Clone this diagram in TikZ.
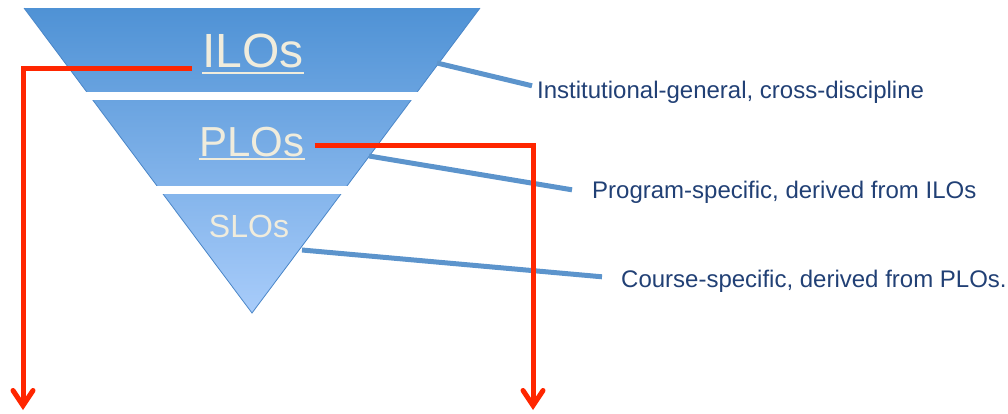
\documentclass[tikz,border=0pt]{standalone}
\usepackage{fontspec}
\setmainfont{Liberation Sans}
\usetikzlibrary{arrows.meta}
\definecolor{bandtop}{RGB}{79,146,213}
\definecolor{bandbot}{RGB}{168,204,250}
\definecolor{bandedge}{RGB}{74,134,200}
\definecolor{labelcol}{RGB}{240,236,220}
\definecolor{desccol}{RGB}{33,64,117}
\definecolor{linkcol}{RGB}{92,148,204}
\definecolor{flowcol}{RGB}{255,38,0}
\begin{document}
\begin{tikzpicture}[x=1pt,y=-1pt,
    lo/.style={text=labelcol,inner sep=0pt,anchor=base},
    desc/.style={text=desccol,font=\fontsize{24}{28}\selectfont,inner sep=0pt,anchor=base west},
    link/.style={draw=linkcol,line width=5pt},
    flow/.style={draw=flowcol,line width=5pt,-{Straight Barb[length=15pt,width=20pt,line cap=round]}}]
    \useasboundingbox (0,0) rectangle (1008,413);
    % pyramid
    \shade[top color=bandtop,bottom color=bandbot] (24,8) -- (480,8) -- (252,313) -- cycle;
    \draw[bandedge,line width=0.8pt] (24,8) -- (252,313) -- (480,8);
    \fill[white] (0,92) rectangle (520,100);
    \fill[white] (0,186) rectangle (520,194);
    \node[lo,font=\fontsize{48}{52}\selectfont] (ilo) at (253,67) {ILOs};
    \node[lo,font=\fontsize{42}{46}\selectfont] (plo) at (252,156) {PLOs};
    \node[lo,font=\fontsize{32}{36}\selectfont] (slo) at (249,237) {SLOs};
    \draw[labelcol,line width=2pt] ([yshift=-6pt]ilo.base west) -- ([yshift=-6pt]ilo.base east);
    \draw[labelcol,line width=2pt] ([yshift=-3pt]plo.base west) -- ([yshift=-3pt]plo.base east);
    % descriptions
    \node[desc] (instText) at (537,98) {Institutional-general, cross-discipline};
    \node[desc] (progText) at (592,198) {Program-specific, derived from ILOs};
    \node[desc] (courseText) at (621,287) {Course-specific, derived from PLOs.};
    \coordinate (iloEdge) at (437,63);
    \coordinate (ploEdge) at (369,156);
    \coordinate (sloEdge) at (302,250);
    \draw[link] (iloEdge) -- ([xshift=-5pt,yshift=6pt]instText.west);
    \draw[link] (ploEdge) -- ([xshift=-20pt,yshift=2pt]progText.west);
    \draw[link] (sloEdge) -- ([xshift=-19pt,yshift=4pt]courseText.west);
    % red arrows
    \coordinate (iloDrop) at (23,410);
    \coordinate (ploDrop) at (533,410);
    \draw[flow] ([xshift=-10pt,yshift=-1pt]ilo.base west) -| (iloDrop);
    \draw[flow] ([xshift=10pt,yshift=11pt]plo.base east) -| (ploDrop);
\end{tikzpicture}
\end{document}
